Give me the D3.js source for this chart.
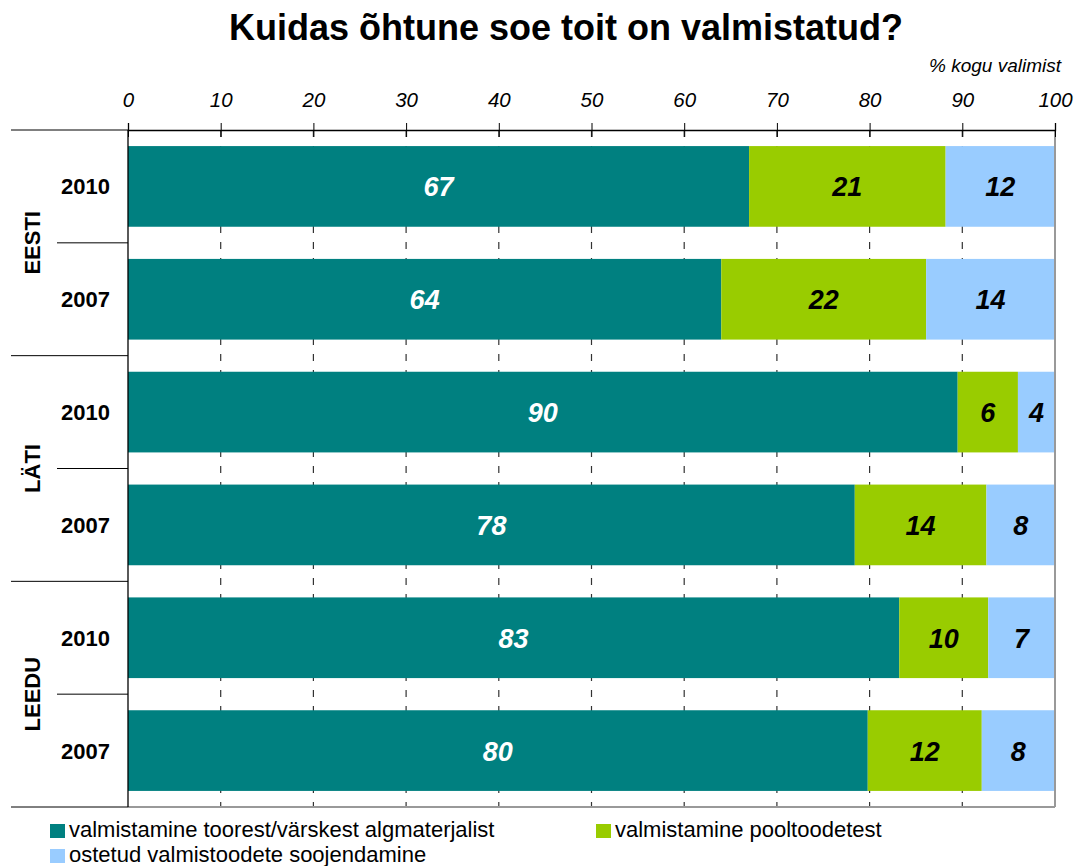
<!DOCTYPE html>
<html>
<head>
<meta charset="utf-8">
<script src="https://cdn.jsdelivr.net/npm/d3@7"></script>
<style>
  body { margin: 0; background: #fff; }
  svg text { font-family: "Liberation Sans", Arial, sans-serif; }
</style>
</head>
<body>
<div id="chart"></div>
<script>
// rows top to bottom
const countries = ["EESTI", "LÄTI", "LEEDU"];
const years = ["2010", "2007", "2010", "2007", "2010", "2007"];
const seriesNames = ["valmistamine toorest/värskest algmaterjalist", "valmistamine pooltoodetest", "ostetud valmistoodete soojendamine"];
const raw = [67.0, 64.0, 89.5, 78.4, 83.2, 79.8];
const semi = [21.2, 22.1, 6.5, 14.2, 9.6, 12.3];
const ready = [11.8, 13.9, 4.0, 7.4, 7.2, 7.9];
const rawLabels = ["67", "64", "90", "78", "83", "80"];
const semiLabels = ["21", "22", "6", "14", "10", "12"];
const readyLabels = ["12", "14", "4", "8", "7", "8"];
const xTicks = [0, 10, 20, 30, 40, 50, 60, 70, 80, 90, 100];
const colors = ["#008080", "#99CC00", "#99CCFF"];
const textColors = ["#fff", "#000", "#000"];

function draw() {
  const W = 1076, H = 866;
  const margin = { top: 130, right: 21, bottom: 59, left: 128 };
  const width = W - margin.left - margin.right;
  const height = H - margin.top - margin.bottom;

  const svg = d3.select("#chart").append("svg")
    .attr("width", W).attr("height", H);

  svg.append("text")
    .attr("x", 566).attr("y", 40)
    .attr("text-anchor", "middle")
    .style("font-size", "36px").style("font-weight", "bold")
    .text("Kuidas õhtune soe toit on valmistatud?");

  svg.append("text")
    .attr("x", 1061).attr("y", 72)
    .attr("text-anchor", "end")
    .style("font-size", "19px").style("font-style", "italic")
    .text("% kogu valimist");

  const g = svg.append("g").attr("transform", `translate(${margin.left},${margin.top})`);

  const x = d3.scaleLinear().domain([0, 100]).range([0, width]);
  const rows = d3.range(years.length);
  const y = d3.scaleBand().domain(rows).range([0, height]).paddingInner(0.285).paddingOuter(0.1425);
  const step = y.step();

  // dashed grid
  g.selectAll(".grid").data(xTicks.slice(1, -1)).enter().append("line")
    .attr("x1", d => x(d)).attr("x2", d => x(d))
    .attr("y1", 0).attr("y2", height)
    .attr("stroke", "#333").attr("stroke-width", 1.2)
    .attr("stroke-dasharray", "7,9");

  // stacked bars
  const table = rows.map(i => ({ i, vals: [raw[i], semi[i], ready[i]], labs: [rawLabels[i], semiLabels[i], readyLabels[i]] }));
  table.forEach(r => {
    let acc = 0;
    r.vals.forEach((v, k) => {
      const x0 = acc, x1 = acc + v;
      acc = x1;
      g.append("rect")
        .attr("x", x(x0)).attr("y", y(r.i))
        .attr("width", x(x1) - x(x0)).attr("height", y.bandwidth())
        .attr("fill", colors[k]);
      g.append("text")
        .attr("x", (x(x0) + x(x1)) / 2).attr("y", y(r.i) + y.bandwidth() / 2 + 10)
        .attr("text-anchor", "middle")
        .style("font-size", "27px").style("font-weight", "bold").style("font-style", "italic")
        .attr("fill", textColors[k])
        .text(r.labs[k]);
    });
  });

  // plot frame (right/bottom gray)
  g.append("line").attr("x1", width).attr("x2", width).attr("y1", 0).attr("y2", height)
    .attr("stroke", "#999").attr("stroke-width", 2);
  g.append("line").attr("x1", 0).attr("x2", width).attr("y1", height).attr("y2", height)
    .attr("stroke", "#999").attr("stroke-width", 2);

  // top axis
  const xAxis = g.append("g")
    .call(d3.axisTop(x).tickValues(xTicks).tickSize(7).tickPadding(18))
    .call(a => a.select(".domain").attr("stroke", "#000").attr("stroke-width", 1.3));
  xAxis.selectAll(".tick line").attr("y2", 7).attr("y1", -7).attr("stroke", "#000");
  xAxis.selectAll(".tick text")
    .attr("y", -23.5)
    .attr("dy", 0)
    .style("font-size", "20.5px").style("font-style", "italic")
    .style("font-family", "Liberation Sans, Arial, sans-serif")
    .attr("fill", "#000");

  // left axis line
  g.append("line").attr("x1", 0).attr("x2", 0).attr("y1", 0).attr("y2", height)
    .attr("stroke", "#000").attr("stroke-width", 1.3);

  // category separators
  d3.range(0, years.length + 1).forEach(i => {
    const yy = i * step;
    const isGroup = i % 2 === 0;
    g.append("line")
      .attr("x1", isGroup ? -117 : -71).attr("x2", 0)
      .attr("y1", yy).attr("y2", yy)
      .attr("stroke", "#000").attr("stroke-width", 1);
  });

  // year labels
  g.selectAll(".yr").data(rows).enter().append("text")
    .attr("x", -18).attr("y", i => y(i) + y.bandwidth() / 2 + 8)
    .attr("text-anchor", "end")
    .style("font-size", "22px").style("font-weight", "bold")
    .text(i => years[i]);

  // country labels
  countries.forEach((c, k) => {
    const cy = (2 * k + 1) * step;
    g.append("text")
      .attr("transform", `translate(${-88},${cy}) rotate(-90)`)
      .attr("text-anchor", "middle")
      .style("font-size", "22px").style("font-weight", "bold")
      .text(c);
  });

  // legend
  const legPos = [[50, 837], [596, 837], [50, 862]];
  seriesNames.forEach((s, k) => {
    const lg = svg.append("g").attr("transform", `translate(${legPos[k][0]},${legPos[k][1]})`);
    lg.append("rect").attr("x", 0).attr("y", -13).attr("width", 15).attr("height", 14).attr("fill", colors[k]);
    lg.append("text").attr("x", 19).attr("y", 0)
      .style("font-size", "22px").text(s);
  });
}
draw();
</script>
</body>
</html>
